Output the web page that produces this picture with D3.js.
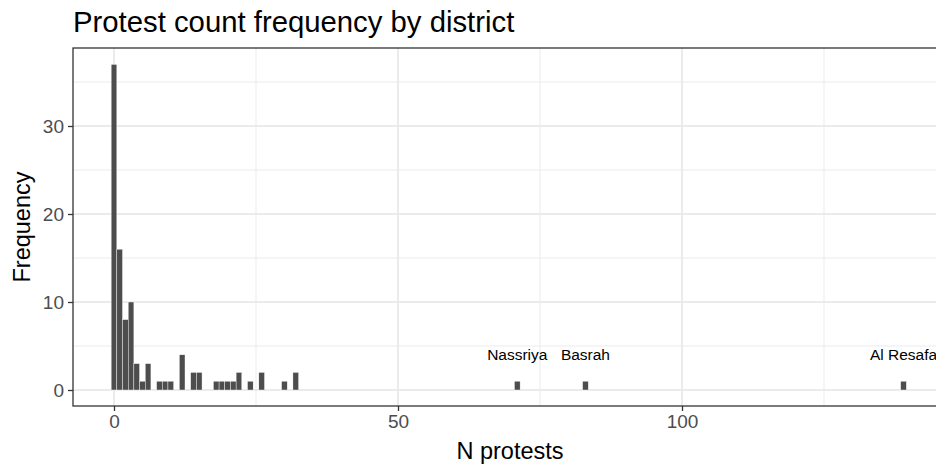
<!DOCTYPE html>
<html><head><meta charset="utf-8">
<script src="https://cdn.jsdelivr.net/npm/d3@7"></script>
<style>body{margin:0;background:#fff;} text{font-family:"Liberation Sans",Arial,sans-serif;}</style>
</head><body>
<svg id="c" width="936" height="465"></svg>
<script>
const binValues = [0,1,2,3,4,5,6,8,9,10,12,14,15,18,19,20,21,22,24,26,30,32,71,83,139];
const binCounts = [37,16,8,10,3,1,3,1,1,1,4,2,2,1,1,1,1,2,1,2,1,2,1,1,1];
const labelNames = ["Nassriya","Basrah","Al Resafa"];
const labelValues = [71,83,139];
const labelCounts = [1,1,1];
const xTicks = [0,50,100];
const yTicks = [0,10,20,30];
const xMinor = [25,75,125];
const yMinor = [5,15,25,35];

const svg = d3.select("#c");
const L=73, T=48, R=947, B=406;
const x = d3.scaleLinear().domain([0,100]).range([114,682]);
const y = d3.scaleLinear().domain([0,30]).range([390,126]);

svg.append("rect").attr("x",0).attr("y",0).attr("width",936).attr("height",465).attr("fill","#fff");
svg.append("clipPath").attr("id","pc").append("rect").attr("x",L).attr("y",T).attr("width",R-L).attr("height",B-T);
const g = svg.append("g").attr("clip-path","url(#pc)");

g.selectAll(".xm").data(xMinor).join("line").attr("x1",d=>x(d)).attr("x2",d=>x(d)).attr("y1",T).attr("y2",B).attr("stroke","#ebebeb").attr("stroke-width",1);
g.selectAll(".ym").data(yMinor).join("line").attr("x1",L).attr("x2",R).attr("y1",d=>y(d)).attr("y2",d=>y(d)).attr("stroke","#ebebeb").attr("stroke-width",1);
g.selectAll(".xM").data(xTicks).join("line").attr("x1",d=>x(d)).attr("x2",d=>x(d)).attr("y1",T).attr("y2",B).attr("stroke","#ebebeb").attr("stroke-width",2);
g.selectAll(".yM").data(yTicks).join("line").attr("x1",L).attr("x2",R).attr("y1",d=>y(d)).attr("y2",d=>y(d)).attr("stroke","#ebebeb").attr("stroke-width",2);

g.selectAll(".bar").data(binValues.map((v,i)=>({v,c:binCounts[i]}))).join("rect")
 .attr("x",d=>x(d.v-0.5)).attr("width",d=>x(d.v+0.5)-x(d.v-0.5))
 .attr("y",d=>y(d.c)).attr("height",d=>y(0)-y(d.c))
 .attr("fill","#4d4d4d").attr("stroke","#ffffff").attr("stroke-width",0.4);

g.selectAll(".lab").data(labelNames.map((n,i)=>({n,v:labelValues[i],c:labelCounts[i]}))).join("text")
 .attr("x",d=>x(d.v)).attr("y",d=>y(d.c+3)).attr("dy","0.35em").attr("text-anchor","middle")
 .attr("font-size",15.5).attr("fill","#000").text(d=>d.n);

svg.append("rect").attr("x",L).attr("y",T).attr("width",R-L).attr("height",B-T).attr("fill","none").attr("stroke","#333").attr("stroke-width",1.3);

const xa = svg.append("g").attr("transform",`translate(0,${B})`)
 .call(d3.axisBottom(x).tickValues(xTicks).tickSize(5).tickPadding(4).tickFormat(d3.format("d")));
const ya = svg.append("g").attr("transform",`translate(${L},0)`)
 .call(d3.axisLeft(y).tickValues(yTicks).tickSize(5).tickPadding(4).tickFormat(d3.format("d")));
[xa,ya].forEach(a=>{a.select(".domain").remove();
 a.selectAll(".tick line").attr("stroke","#333").attr("stroke-width",1.3);
 a.selectAll(".tick text").attr("fill","#4d4d4d").attr("font-size",19).attr("font-family","Liberation Sans, Arial, sans-serif");});

svg.append("text").attr("x",L).attr("y",32).attr("font-size",29.3).attr("fill","#000").text("Protest count frequency by district");
svg.append("text").attr("x",(L+R)/2).attr("y",459).attr("text-anchor","middle").attr("font-size",23.5).attr("fill","#000").text("N protests");
svg.append("text").attr("transform",`translate(30,${(T+B)/2}) rotate(-90)`).attr("text-anchor","middle").attr("font-size",23.5).attr("fill","#000").text("Frequency");
</script>
</body></html>
